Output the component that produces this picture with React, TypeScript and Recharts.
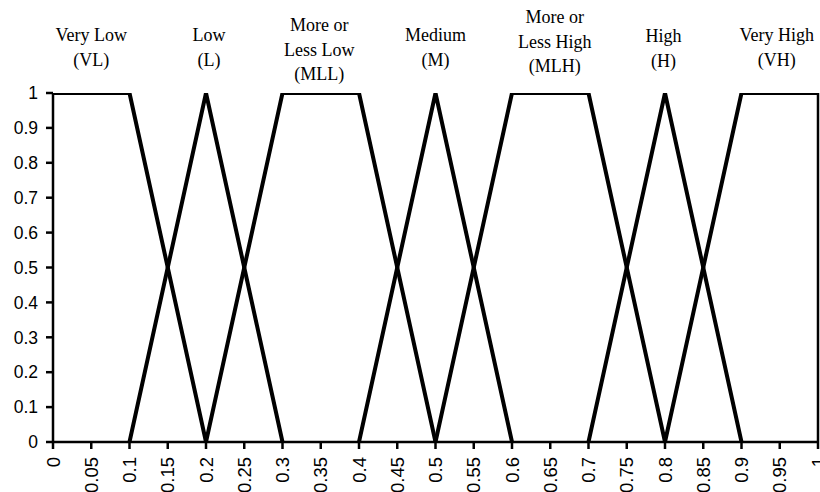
import React from "react";
import { LineChart, Line, XAxis, YAxis, ReferenceDot, ReferenceLine } from "recharts";

const veryLow = [
  { x: 0, y: 1 },
  { x: 0.1, y: 1 },
  { x: 0.2, y: 0 },
];
const low = [
  { x: 0.1, y: 0 },
  { x: 0.2, y: 1 },
  { x: 0.3, y: 0 },
];
const moreOrLessLow = [
  { x: 0.2, y: 0 },
  { x: 0.3, y: 1 },
  { x: 0.4, y: 1 },
  { x: 0.5, y: 0 },
];
const medium = [
  { x: 0.4, y: 0 },
  { x: 0.5, y: 1 },
  { x: 0.6, y: 0 },
];
const moreOrLessHigh = [
  { x: 0.5, y: 0 },
  { x: 0.6, y: 1 },
  { x: 0.7, y: 1 },
  { x: 0.8, y: 0 },
];
const high = [
  { x: 0.7, y: 0 },
  { x: 0.8, y: 1 },
  { x: 0.9, y: 0 },
];
const veryHigh = [
  { x: 0.8, y: 0 },
  { x: 0.9, y: 1 },
  { x: 1, y: 1 },
];

const series = [veryLow, low, moreOrLessLow, medium, moreOrLessHigh, high, veryHigh];

const xTicks = [0, 0.05, 0.1, 0.15, 0.2, 0.25, 0.3, 0.35, 0.4, 0.45, 0.5, 0.55, 0.6, 0.65, 0.7, 0.75, 0.8, 0.85, 0.9, 0.95, 1];
const xTickLabels = ["0", "0.05", "0.1", "0.15", "0.2", "0.25", "0.3", "0.35", "0.4", "0.45", "0.5", "0.55", "0.6", "0.65", "0.7", "0.75", "0.8", "0.85", "0.9", "0.95", "1"];
const yTicks = [0, 0.1, 0.2, 0.3, 0.4, 0.5, 0.6, 0.7, 0.8, 0.9, 1];
const yTickLabels = ["0", "0.1", "0.2", "0.3", "0.4", "0.5", "0.6", "0.7", "0.8", "0.9", "1"];

const termLines = [
  ["Very Low", "(VL)"],
  ["Low", "(L)"],
  ["More or", "Less Low", "(MLL)"],
  ["Medium", "(M)"],
  ["More or", "Less High", "(MLH)"],
  ["High", "(H)"],
  ["Very High", "(VH)"],
];
const termX = [0.05, 0.204, 0.348, 0.5, 0.656, 0.798, 0.946];
const termFirstBaseline = [-52, -52, -62, -52, -70, -51, -52];

const SANS = "'Liberation Sans', Arial, sans-serif";
const SERIF = "'Liberation Serif', 'Times New Roman', serif";

const XTick = (props: any) => {
  const { x, y, payload } = props;
  const idx = xTicks.findIndex((t) => Math.abs(t - payload.value) < 1e-9);
  return (
    <text
      x={x}
      y={y}
      transform={`rotate(-90 ${x} ${y})`}
      textAnchor="end"
      dominantBaseline="central"
      fontSize={18.5}
      fontFamily={SANS}
      fill="#000"
    >
      {idx >= 0 ? xTickLabels[idx] : payload.value}
    </text>
  );
};

const makeTermLabel = (i: number) => (props: any) => {
  const vb = props.viewBox || {};
  const cx = (vb.x ?? 0) + (vb.width ?? 0) / 2;
  const cy = (vb.y ?? 0) + (vb.height ?? 0) / 2;
  return (
    <text textAnchor="middle" fontSize={18} fontFamily={SERIF} fill="#000">
      {termLines[i].map((line, j) => (
        <tspan key={j} x={cx} y={cy + termFirstBaseline[i] + j * 24.5}>
          {line}
        </tspan>
      ))}
    </text>
  );
};

export default function App() {
  return (
    <div style={{ position: "fixed", left: 0, top: 0, width: 820, height: 492, background: "#fff" }}>
      <LineChart width={820} height={492} margin={{ top: 93, right: 2, bottom: 0, left: 0 }}>
        <XAxis
          type="number"
          dataKey="x"
          domain={[0, 1]}
          ticks={xTicks}
          interval={0}
          height={50}
          tick={<XTick />}
          tickSize={7}
          tickMargin={8}
          axisLine={{ stroke: "#000", strokeWidth: 2.5 }}
          tickLine={{ stroke: "#000", strokeWidth: 2.5 }}
          allowDataOverflow
        />
        <YAxis
          type="number"
          dataKey="y"
          domain={[0, 1]}
          ticks={yTicks}
          interval={0}
          width={53}
          tickFormatter={(v: number) => {
            const idx = yTicks.findIndex((t) => Math.abs(t - v) < 1e-9);
            return idx >= 0 ? yTickLabels[idx] : String(v);
          }}
          tick={{ fontSize: 17.5, fontFamily: SANS, fill: "#000" }}
          tickSize={7}
          tickMargin={8}
          axisLine={{ stroke: "#000", strokeWidth: 2.5 }}
          tickLine={{ stroke: "#000", strokeWidth: 2.5 }}
          allowDataOverflow
        />
        <ReferenceLine x={1} stroke="#000" strokeWidth={2.5} ifOverflow="visible" />
        {series.map((d, i) => (
          <Line
            key={i}
            data={d}
            dataKey="y"
            type="linear"
            stroke="#000"
            strokeWidth={4}
            strokeLinejoin="miter"
            strokeLinecap="butt"
            dot={false}
            activeDot={false}
            isAnimationActive={false}
          />
        ))}
        {termX.map((tx, i) => (
          <ReferenceDot
            key={`t${i}`}
            x={tx}
            y={1}
            r={0}
            fill="none"
            stroke="none"
            ifOverflow="visible"
            label={{ content: makeTermLabel(i) } as any}
          />
        ))}
      </LineChart>
    </div>
  );
}
